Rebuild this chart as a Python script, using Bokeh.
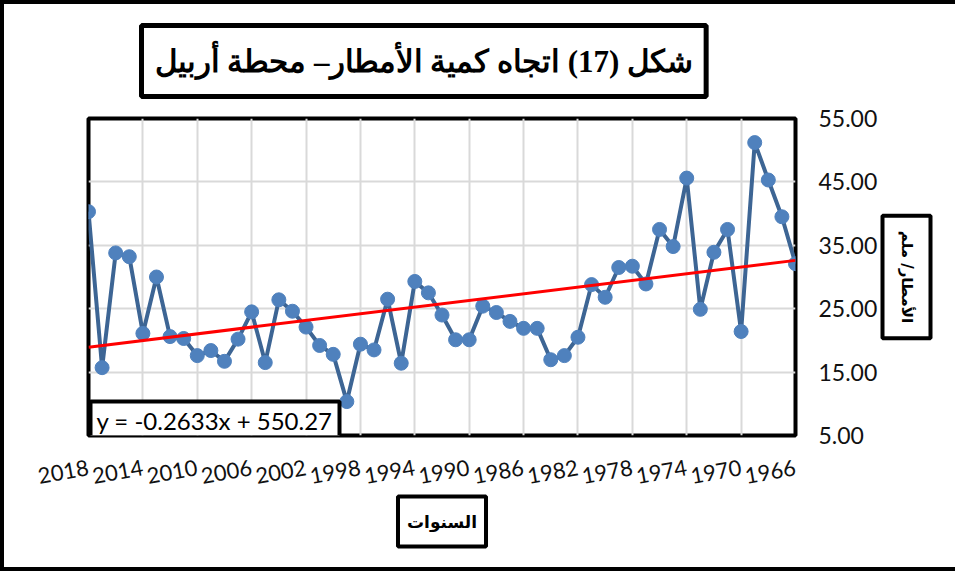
from bokeh.plotting import figure
from bokeh.models import (Range1d, FixedTicker, NumeralTickFormatter, BoxAnnotation,
                          Label, ColumnDataSource, Title)
from bokeh.embed import file_html
from bokeh.resources import INLINE

# ---- data ----
years = list(range(2018, 1965, -1))
rain = [40.3, 15.7, 33.8, 33.2, 21.1, 30.0, 20.6, 20.3, 17.6, 18.4,
        16.7, 20.2, 24.5, 16.5, 26.4, 24.6, 22.1, 19.2, 17.8, 10.35,
        19.4, 18.5, 26.5, 16.4, 29.3, 27.5, 24.0, 20.1, 20.1, 25.4,
        24.4, 23.0, 21.9, 21.9, 16.95, 17.6, 20.5, 28.8, 26.8, 31.5,
        31.7, 28.9, 37.5, 34.8, 45.6, 24.9, 33.9, 37.5, 21.4, 51.2,
        45.3, 39.5, 32.1]
x_ticks = [2018, 2014, 2010, 2006, 2002, 1998, 1994, 1990, 1986, 1982, 1978, 1974, 1970, 1966]
y_ticks = [5, 15, 25, 35, 45, 55]
slope = -0.2633
intercept = 550.27
title_text = "شكل (17) اتجاه كمية الأمطار– محطة أربيل"
x_title = "السنوات"
y_title = "الأمطار/ ملم"
eq_text = "y = -0.2633x + 550.27"

# ---- layout (canvas px) ----
W, H = 955, 571
FL, FT, FR, FB = 88, 118, 795, 435

p = figure(width=W, height=H, output_backend="svg", toolbar_location=None,
           x_range=Range1d(years[0], years[-1]), y_range=Range1d(5, 55),
           min_border_left=FL, min_border_right=W - FR, min_border_top=FT,
           min_border_bottom=H - FB, y_axis_location="right")
p.background_fill_color = "white"
p.border_fill_color = None
p.outline_line_color = "black"
p.outline_line_width = 4
p.styles = {"box-shadow": "inset 4px 4px 0 0 #000000, inset 0 -4px 0 0 #000000",
            "background-color": "white"}

src = ColumnDataSource(dict(x=years, y=rain))
p.line("x", "y", source=src, line_color="#3d6594", line_width=4)
p.scatter("x", "y", source=src, size=14, fill_color="#4f81bd", line_color="#4f81bd")
tx = [years[0], years[-1]]
ty = [slope * v + intercept for v in tx]
p.line(tx, ty, line_color="#ff0000", line_width=3)

for ax in (p.xaxis, p.yaxis):
    ax.axis_line_color = None
    ax.major_tick_line_color = None
    ax.minor_tick_line_color = None
    ax.major_label_text_font = "Lato"
    ax.major_label_text_color = "#111111"
p.xaxis.ticker = FixedTicker(ticks=x_ticks)
p.xaxis.major_label_orientation = 0.18
p.xaxis.major_label_text_font_size = "22px"
p.xaxis.major_label_standoff = 26
p.yaxis.ticker = FixedTicker(ticks=y_ticks)
p.yaxis.formatter = NumeralTickFormatter(format="0.00")
p.yaxis.major_label_text_font_size = "23px"
p.yaxis.major_label_standoff = 17
p.xgrid.grid_line_color = "#d9d9d9"
p.ygrid.grid_line_color = "#d9d9d9"
p.xgrid.grid_line_width = 2
p.ygrid.grid_line_width = 2

TP = Title.properties()

def boxed_title(text, loc, size, font, pad, lw, **kw):
    base = dict(text=text, text_font_size=size, text_font=font, text_font_style="bold",
                text_color="black", border_line_color="black", border_line_width=lw,
                background_fill_color="white", **kw)
    base = {k: v for k, v in base.items() if k in TP}
    try:
        t = Title(padding=pad, **base)
    except Exception:
        fallback = pad if isinstance(pad, int) else max(pad.values())
        t = Title(padding=fallback, **base)
    p.add_layout(t, loc)

boxed_title(title_text, "above", "31px", "Liberation Serif",
            dict(left=13, right=13, top=18, bottom=18), 5,
            align="left", offset=53, standoff=44, vertical_align="bottom")
boxed_title(x_title, "below", "17px", "DejaVu Sans",
            dict(left=9, right=9, top=15, bottom=15), 4,
            align="center", standoff=4, vertical_align="top")
boxed_title(y_title, "right", "15px", "DejaVu Sans", 15, 4,
            align="center", standoff=4)

# equation box inside the plot frame
def sx(px):
    return px - FL

def sy(py):
    return FB - py

p.add_layout(BoxAnnotation(left=sx(90), right=sx(339), top=sy(401), bottom=sy(437),
                           left_units="screen", right_units="screen",
                           top_units="screen", bottom_units="screen",
                           fill_color="white", fill_alpha=1.0,
                           line_color="black", line_width=4, line_alpha=1.0))
p.add_layout(Label(x=sx(214), y=sy(420), x_units="screen", y_units="screen",
                   text=eq_text, text_align="center", text_baseline="middle",
                   text_font_size="24px", text_font="Lato", text_color="black"))

open("out.html", "w").write(file_html(p, INLINE))
